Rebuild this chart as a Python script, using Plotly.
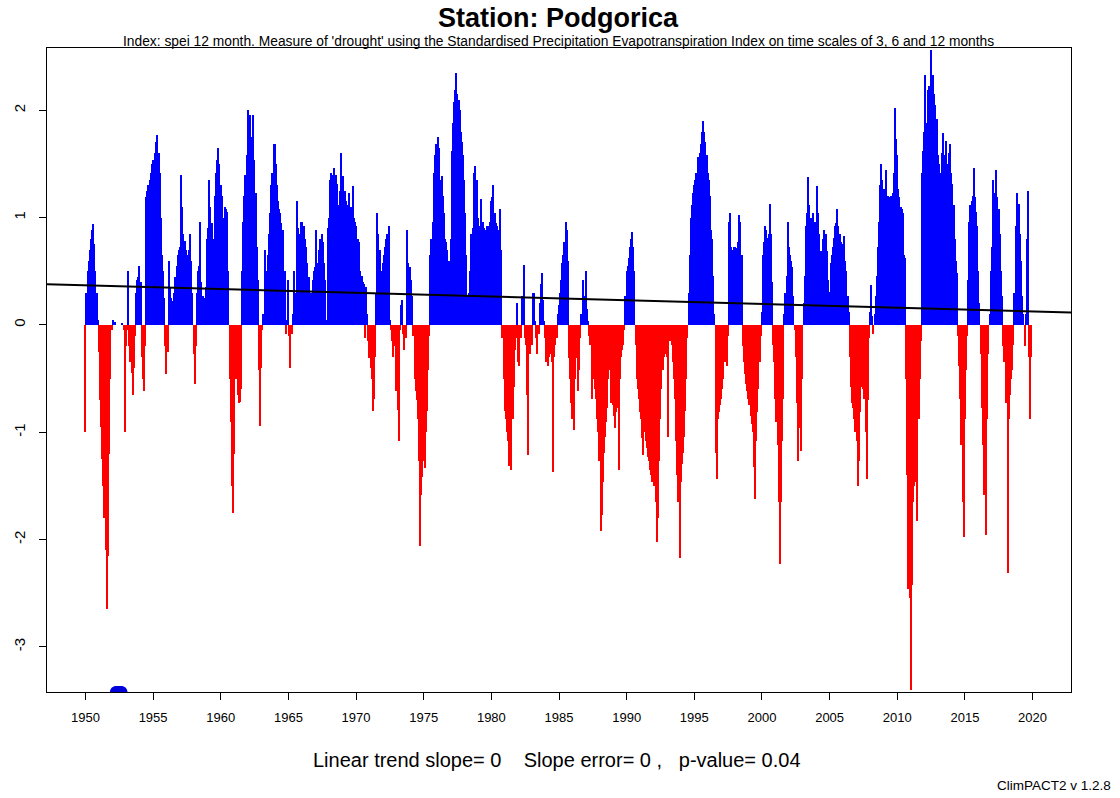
import math
import plotly.graph_objects as go

nan = float("nan")

# Monthly SPEI-12 values (Jan..Dec), one row per year
spei_1950s = [
    [-1.0, 0.3, 0.5, 0.6, 0.7, 0.8, 0.88, 0.94, 0.75, 0.5, 0.3, 0.05],
    [-0.25, -0.7, -0.95, -1.25, -1.5, -1.8, -2.1, -2.65, -2.15, -1.2, -0.5, -0.05],
    [-0.05, 0.05, 0.03, nan, nan, nan, nan, nan, nan, 0.02, -0.05, -1.0],
    [-0.2, -0.05, 0.5, -0.2, -0.35, -0.45, -0.65, -0.4, -0.1, 0.3, 0.42, 0.45],
    [0.55, 0.4, -0.3, -0.5, -0.62, -0.2, 1.19, 1.25, 1.3, 1.35, 1.42, 1.5],
    [1.54, 1.45, 1.6, 1.7, 1.77, 1.6, 1.42, 1.0, 0.65, 0.5, 0.25, -0.2],
    [-0.46, -0.25, 0.6, 0.35, 0.25, 0.2, 0.22, 0.3, 0.45, 0.55, 0.65, 0.7],
    [0.73, 1.4, 1.1, 0.85, 0.78, 0.7, 0.65, 0.6, 0.7, 0.85, 0.6, 0.3],
    [-0.27, -0.55, -0.2, 0.3, 0.5, 0.55, 0.96, 0.4, 0.27, 0.23, 0.25, 0.35],
    [0.8, 0.9, 1.35, 1.1, 0.95, 0.8, 0.75, 1.2, 1.42, 1.54, 1.65, 1.5],
]
spei_1960s = [
    [1.3, 1.2, 0.45, 1.0, 1.1, 1.08, 1.05, 0.5, -0.5, -0.9, -1.5, -1.75],
    [-1.2, -0.12, -0.5, -0.65, -0.73, -0.72, -0.6, 0.5, 0.96, 1.2, 1.4, 1.58],
    [2.0, 1.73, 1.96, 1.75, 1.73, 1.96, 1.54, 1.23, 0.73, 0.42, -0.42, -0.94],
    [-0.4, -0.05, 0.1, 0.7, 0.42, 0.5, 0.65, 0.85, 1.04, 1.3, 1.42, 1.69],
    [1.69, 1.5, 1.3, 1.15, 1.08, 1.04, 0.95, 0.88, 0.3, 0.5, -0.08, 0.05],
    [0.42, -0.1, -0.4, -0.08, 0.1, 0.5, 0.3, 0.27, 1.15, 0.9, 0.85, 0.96],
    [0.96, 0.73, 0.92, 0.8, 0.73, 0.58, 0.45, 0.3, 0.19, 0.3, 0.42, 0.5],
    [0.54, 0.88, 0.58, 0.7, 0.8, 0.65, 0.85, 0.77, 0.58, 0.42, 0.05, 0.9],
    [1.0, 1.35, 1.42, 1.4, 1.39, 1.46, 1.4, 1.31, 1.0, 1.12, 1.25, 1.6],
    [1.27, 1.39, 1.25, 1.15, 1.04, 1.12, 1.23, 1.08, 1.1, 1.29, 1.0, 0.96],
]
spei_1970s = [
    [0.92, 0.8, 0.8, 0.77, 0.5, 0.46, 0.4, 0.38, -0.12, 0.35, 0.1, -0.15],
    [-0.31, -0.4, -0.5, -0.8, -0.69, -0.3, 0.3, 1.04, 0.85, 0.7, 0.42, 0.5],
    [0.58, 0.65, 0.73, 0.8, 0.85, 0.92, 0.05, -0.05, -0.15, -0.3, -0.12, -0.2],
    [-0.62, -0.79, -1.08, -0.05, 0.19, 0.23, -0.08, -0.23, -0.12, 0.88, 0.58, 0.5],
    [0.54, 0.42, 0.27, -0.1, -0.5, -0.62, -0.7, -0.88, -1.27, -2.06, -1.58, -1.42],
    [-1.27, -1.33, -1.0, -0.8, -0.42, -0.1, 0.65, 0.8, 0.96, 1.42, 1.58, 1.69],
    [1.65, 1.75, 1.65, 1.35, 1.39, 1.2, 1.04, 0.8, 0.77, 0.7, 0.58, 0.6],
    [0.8, 1.62, 1.88, 2.08, 2.19, 2.35, 2.15, 2.1, 2.0, 1.8, 1.7, 1.58],
    [1.35, 1.04, 0.65, 0.27, 0.3, 0.5, 0.85, 0.58, 0.9, 1.42, 1.48, 1.35],
    [1.0, 0.92, 0.77, 1.17, 0.92, 0.96, 0.9, 0.88, 0.92, 0.88, 0.92, 0.96],
]
spei_1980s = [
    [1.15, 1.19, 1.3, 1.04, 0.95, 0.92, 0.88, 0.85, 1.08, 0.7, -0.12, -0.5],
    [-0.8, -0.88, -1.0, -1.08, -1.31, -1.19, -1.35, -0.88, -0.58, -0.23, -0.12, 0.2],
    [-0.35, -0.38, -0.12, 0.27, 0.27, 0.56, -0.12, -0.19, -0.65, -1.21, -0.27, -0.19],
    [-0.19, 0.3, 0.3, 0.04, -0.12, -0.27, -0.08, 0.2, 0.38, 0.48, 0.23, 0.04],
    [-0.12, -0.35, -0.38, -0.3, -0.12, -0.27, -0.35, -1.37, -0.3, -0.19, -0.12, 0.1],
    [0.19, 0.3, 0.42, 0.58, 0.65, 0.77, 0.96, 0.88, 0.6, -0.31, -0.5, -0.73],
    [-0.88, -0.98, -0.5, -0.12, -0.31, -0.62, -0.42, -0.12, 0.1, 0.42, 0.23, 0.27],
    [0.5, 0.15, 0.04, -0.1, -0.19, -0.69, -0.42, -0.5, -0.6, -0.69, -0.88, -1.0],
    [-1.27, -1.92, -1.77, -1.46, -1.19, -1.04, -0.9, -0.77, -0.5, -0.42, -0.73, -0.69],
    [-0.75, -0.85, -0.96, -0.81, -0.77, -1.35, -0.5, -0.3, -0.23, -0.19, -0.05, 0.27],
]
spei_1990s = [
    [0.5, 0.55, 0.62, 0.73, 0.8, 0.87, 0.73, 0.5, -0.19, -0.5, -0.6, -0.69],
    [-0.81, -0.88, -1.05, -1.21, -1.0, -1.08, -1.15, -1.23, -1.27, -1.35, -1.4, -1.46],
    [-1.5, -1.35, -1.65, -2.02, -1.8, -1.27, -0.88, -0.6, -0.42, -0.3, -0.27, -0.23],
    [-0.3, -1.04, -0.12, -0.15, -0.19, -0.35, -0.5, -0.69, -1.08, -1.4, -1.65, -2.17],
    [-1.46, -1.3, -1.19, -1.04, -0.8, -0.5, -0.12, 0.3, 0.65, 1.0, 1.12, 1.23],
    [1.3, 1.35, 1.42, 1.56, 1.5, 1.6, 1.69, 1.8, 1.9, 1.8, 1.7, 1.58],
    [1.42, 1.35, 1.2, 0.88, 0.8, 0.46, 0.1, -1.19, -1.44, -0.88, -0.81, -0.75],
    [-0.69, -0.6, -0.5, -0.35, -0.19, -0.38, -0.1, 0.96, 1.04, 0.73, 0.7, 0.73],
    [0.73, 0.69, 0.72, 0.77, 1.02, 0.96, 0.65, -0.2, -0.35, -0.46, -0.55, -0.62],
    [-0.69, -0.75, -0.85, -0.92, -1.0, -1.32, -1.62, -1.08, -0.81, -0.6, -0.35, -0.1],
]
spei_2000s = [
    [0.12, 0.65, 0.77, 0.92, 0.88, 0.81, 0.85, 1.13, 0.85, 0.4, -0.19, -0.35],
    [-0.69, -0.9, -1.12, -1.65, -2.23, -1.65, -1.08, -0.69, 0.1, 0.3, 0.46, 0.96],
    [0.73, 0.65, 0.6, 0.54, 0.27, -0.05, -0.3, -0.73, -1.27, -0.96, -0.77, -1.17],
    [-0.5, 0.2, 0.46, 0.92, 1.04, 1.38, 1.12, 0.92, 1.0, 1.04, 0.88, 0.96],
    [0.96, 1.29, 1.04, 0.85, 0.69, 0.69, 0.8, 0.88, 0.69, 0.85, 0.69, 0.42],
    [0.31, 0.58, 0.65, 0.73, 0.81, 0.92, 0.95, 1.08, 0.92, 0.85, 0.77, 0.75],
    [0.73, 0.83, 0.6, 0.5, 0.27, 0.12, -0.3, -0.58, -0.73, -0.77, -0.88, -1.0],
    [-1.08, -1.5, -1.27, -0.81, -0.58, -0.5, -0.6, -0.69, -1.0, -1.44, -0.7, -0.12],
    [0.12, 0.37, 0.08, -0.08, 0.1, 0.27, 0.46, 0.73, 0.96, 1.3, 1.5, 1.35],
    [1.27, 1.19, 1.44, 1.19, 1.2, 1.19, 1.15, 1.2, 1.23, 1.42, 2.02, 1.73],
]
spei_2010s = [
    [1.58, 1.27, 1.19, 1.1, 1.08, 1.04, 0.65, 0.62, -0.5, -1.4, -2.46, -2.54],
    [-3.4, -2.42, -1.65, -1.5, -1.46, -1.42, -1.83, -0.88, -0.5, -0.15, 1.42, 1.62],
    [1.8, 2.33, 1.88, 2.19, 2.23, 2.19, 2.56, 2.23, 2.33, 2.15, 2.05, 1.92],
    [1.58, 1.5, 1.23, 1.42, 1.6, 1.79, 1.58, 1.71, 1.42, 1.5, 1.6, 1.69],
    [1.42, 1.31, 1.12, 0.8, 0.6, 0.48, -0.1, -0.38, -0.69, -1.12, -1.65, -1.98],
    [-0.88, -0.42, -0.1, 0.42, 0.96, 1.12, 1.15, 1.2, 1.46, 1.19, 1.05, 0.92],
    [0.5, 0.2, -0.27, -0.77, -1.12, -1.58, -1.5, -1.96, -0.88, -0.27, 0.1, 0.5],
    [0.73, 1.35, 1.19, 1.23, 1.44, 1.19, 1.08, 0.85, 0.5, 0.27, -0.2, -0.35],
    [-0.35, -0.73, -2.31, -0.88, -0.65, -0.5, -0.42, -0.19, 0.3, 0.92, 1.23, 0.88],
    [1.13, 0.85, 0.6, 0.27, 0.1, -0.2, 0.1, 0.8, 1.25, -0.3, -0.88, -0.3],
]

start_year = 1950
tick_years = [1950, 1955, 1960, 1965, 1970, 1975, 1980, 1985, 1990, 1995, 2000, 2005, 2010, 2015, 2020]
y_ticks = [-3, -2, -1, 0, 1, 2]

# linear trend read at 1950 and 2020
trend_years = [1950, 2020]
trend_values = [0.37, 0.125]

title_text = "Station: Podgorica"
subtitle_text = ("Index: spei 12 month. Measure of 'drought' using the Standardised "
                 "Precipitation Evapotranspiration Index on time scales of 3, 6 and 12 months")
stats_text = "Linear trend slope= 0    Slope error= 0 ,   p-value= 0.04"
credit_text = "ClimPACT2 v 1.2.8"

# ---------------------------------------------------------------------------
values = [v for decade in (spei_1950s, spei_1960s, spei_1970s, spei_1980s,
                           spei_1990s, spei_2000s, spei_2010s)
          for year in decade for v in year]
times = [start_year + i / 12.0 for i in range(len(values))]

bar_x, bar_y, bar_c = [], [], []
miss_x = []
for t, v in zip(times, values):
    if math.isnan(v):
        miss_x.append(t)
        continue
    bar_x.append(t)
    bar_y.append(v)
    bar_c.append("#0000FF" if v >= 0 else "#FF0000")

x_range = [1947.16, 2022.84]
y_range = [-3.42, 2.58]

slope = (trend_values[1] - trend_values[0]) / (trend_years[1] - trend_years[0])
trend_x = x_range
trend_y = [trend_values[0] + slope * (x - trend_years[0]) for x in x_range]

fig = go.Figure()
fig.add_trace(go.Bar(x=bar_x, y=bar_y, width=1 / 12 * 1.15,
                     marker=dict(color=bar_c, line=dict(width=0)),
                     hoverinfo="skip"))
fig.add_trace(go.Scatter(x=miss_x, y=[y_range[0]] * len(miss_x), mode="markers",
                         marker=dict(color="#0000DD", size=12, line=dict(width=0)),
                         cliponaxis=True, hoverinfo="skip"))
fig.add_trace(go.Scatter(x=trend_x, y=trend_y, mode="lines",
                         line=dict(color="black", width=2), hoverinfo="skip"))

font_family = "Liberation Sans, Arial, Helvetica, sans-serif"
fig.update_layout(
    width=1120, height=798,
    margin=dict(l=47, r=49, t=48, b=106),
    plot_bgcolor="white", paper_bgcolor="white",
    showlegend=False, bargap=0,
    font=dict(family=font_family, color="black"),
    xaxis=dict(range=x_range, tickmode="array", tickvals=tick_years,
               ticktext=[str(y) for y in tick_years],
               ticks="outside", ticklen=7, tickwidth=1, tickcolor="black",
               showline=True, linecolor="black", linewidth=1, mirror=True,
               showgrid=False, zeroline=False, tickfont=dict(size=13),
               ticklabelstandoff=6),
    yaxis=dict(range=y_range, tickmode="array", tickvals=y_ticks,
               ticktext=[str(v) for v in y_ticks], tickangle=-90,
               ticks="outside", ticklen=7, tickwidth=1, tickcolor="black",
               showline=True, linecolor="black", linewidth=1, mirror=True,
               showgrid=False, zeroline=False, tickfont=dict(size=15),
               ticklabelstandoff=8),
)

# positions below are given in page pixels (plot area spans 47..1071 x 48..692)
def py(pix):
    return (692 - pix) / 644.0

def px(pix):
    return (pix - 47) / 1024.0

fig.add_annotation(text="<b>" + title_text + "</b>", xref="paper", yref="paper",
                   x=px(558), y=py(18), xanchor="center", yanchor="middle",
                   showarrow=False, font=dict(size=27))
fig.add_annotation(text=subtitle_text, xref="paper", yref="paper",
                   x=px(558), y=py(42), xanchor="center", yanchor="middle",
                   showarrow=False, font=dict(size=13.8))
fig.add_annotation(text=stats_text.replace(" ", "\u00a0"), xref="paper", yref="paper",
                   x=px(557), y=py(760), xanchor="center", yanchor="middle",
                   showarrow=False, font=dict(size=20))
fig.add_annotation(text=credit_text, xref="paper", yref="paper",
                   x=px(1113), y=py(786), xanchor="right", yanchor="middle",
                   showarrow=False, font=dict(size=13.5))

# remove the default 8px page margin so the figure fills the window exactly
fig.write_html("out.html",
               config={"displayModeBar": False},
               post_script="document.body.style.margin='0px';"
                           "document.body.style.overflow='hidden';")
